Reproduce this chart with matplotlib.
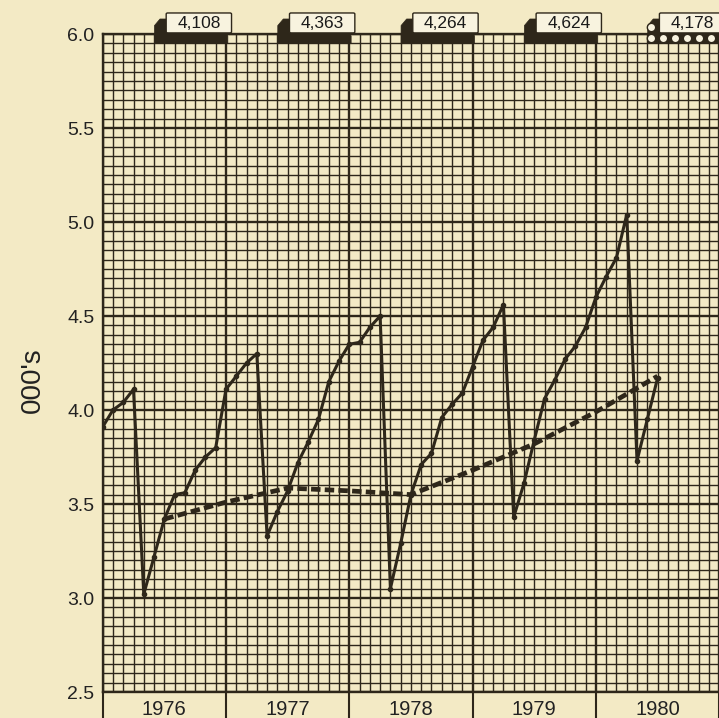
import numpy as np
import matplotlib.pyplot as plt
from matplotlib.patches import Polygon, FancyBboxPatch
from matplotlib.ticker import MultipleLocator, FixedLocator, NullFormatter
from matplotlib.transforms import blended_transform_factory

plt.rcParams['font.family'] = ['Liberation Sans', 'DejaVu Sans']

# monthly values in thousands, Jan 1976 .. Jul 1980
start_year = 1976
monthly = [3.91, 4.00, 4.04, 4.11, 3.02, 3.22, 3.42, 3.55, 3.56, 3.68, 3.75, 3.80,
           4.11, 4.18, 4.25, 4.30, 3.33, 3.46, 3.57, 3.72, 3.83, 3.95, 4.15, 4.26,
           4.35, 4.36, 4.44, 4.50, 3.05, 3.29, 3.55, 3.71, 3.77, 3.96, 4.03, 4.09,
           4.23, 4.37, 4.44, 4.56, 3.43, 3.61, 3.84, 4.06, 4.16, 4.27, 4.34, 4.44,
           4.60, 4.71, 4.81, 5.04, 3.73, 3.95, 4.17]
# dashed trend, month index from Jan 1976
trend_month = [6, 12, 18, 24, 30, 36, 42, 48, 54]
trend = [3.42, 3.51, 3.585, 3.57, 3.55, 3.68, 3.82, 3.99, 4.18]
years = [1976, 1977, 1978, 1979, 1980]
tab_labels = ['4,108', '4,363', '4,264', '4,624', '4,178']

paper = '#f3eac5'
ink = '#2e271a'

fig = plt.figure(figsize=(7.19, 7.18), dpi=100, facecolor=paper)
ax = fig.add_axes([0.1428, 0.0362, 0.8575, 0.9164], facecolor=paper)
ax.set_xlim(start_year, years[-1] + 1)
ax.set_ylim(2.5, 6.0)

# graph paper
ax.xaxis.set_major_locator(FixedLocator(years + [years[-1] + 1]))
ax.xaxis.set_minor_locator(MultipleLocator(1 / 12))
ax.yaxis.set_major_locator(MultipleLocator(0.5))
ax.yaxis.set_minor_locator(MultipleLocator(0.05))
ax.grid(which='minor', color=ink, lw=1.0)
ax.grid(which='major', color=ink, lw=1.7)
ax.set_axisbelow(True)
ax.xaxis.set_major_formatter(NullFormatter())
ax.tick_params(axis='x', which='major', length=19, width=1.5, color=ink, direction='out')
ax.tick_params(axis='x', which='minor', length=0)
ax.tick_params(axis='y', which='both', length=0, labelsize=14, pad=6, labelcolor='#222')
ax.yaxis.set_major_formatter(lambda v, p: f'{v:.1f}')
for s in ['left', 'top', 'bottom']:
    ax.spines[s].set_color(ink)
    ax.spines[s].set_linewidth(1.7)
ax.spines['right'].set_visible(False)

trans = blended_transform_factory(ax.transData, ax.transAxes)
for yr in years:
    ax.text(yr + 0.5, -0.027, str(yr), transform=trans, ha='center', va='center',
            fontsize=14.5, color='#222')

fig.text(0.046, 0.471, "000's", rotation=90, ha='center', va='center',
         fontsize=20, color='#222')

# data
x = start_year + np.arange(len(monthly)) / 12
ax.plot(x, monthly, color=ink, lw=2.2, marker='o', ms=3, zorder=5)
xt = start_year + np.array(trend_month) / 12
ax.plot(xt, trend, color=ink, lw=3.4, ls=(0, (2.0, 0.9)), zorder=4)

# year tabs above the chart
for yr, lab in zip(years, tab_labels):
    base = Polygon([(yr + 0.42, 5.952), (yr + 0.42, 6.045), (yr + 0.465, 6.08),
                    (yr + 0.53, 6.08), (yr + 0.53, 6.005), (yr + 1.0, 6.005),
                    (yr + 1.015, 5.99), (yr + 1.015, 5.952)],
                   closed=True, fc=ink, ec=ink, lw=0.5, clip_on=False, zorder=6)
    ax.add_patch(base)
    box = FancyBboxPatch((yr + 0.515, 6.006), 0.53, 0.106,
                         boxstyle='round,pad=0,rounding_size=0.012',
                         fc='#f8f3df', ec=ink, lw=1, clip_on=False, zorder=7,
                         mutation_aspect=0.5)
    ax.add_patch(box)
    ax.text(yr + 0.78, 6.058, lab, ha='center', va='center', fontsize=12.5,
            color='#1a1a1a', zorder=8, clip_on=False)
    if yr == years[-1]:
        cx = yr + 0.445 + np.arange(6) * 0.097
        ax.plot(cx, np.full(len(cx), 5.979), ls='none', marker='o', ms=6,
                mfc='#f8f3df', mec=ink, mew=1, clip_on=False, zorder=7)
        ax.plot([yr + 0.445], [6.037], ls='none', marker='o', ms=6,
                mfc='#f8f3df', mec=ink, mew=1, clip_on=False, zorder=7)

fig.savefig('out.png', dpi=100, facecolor=paper)
